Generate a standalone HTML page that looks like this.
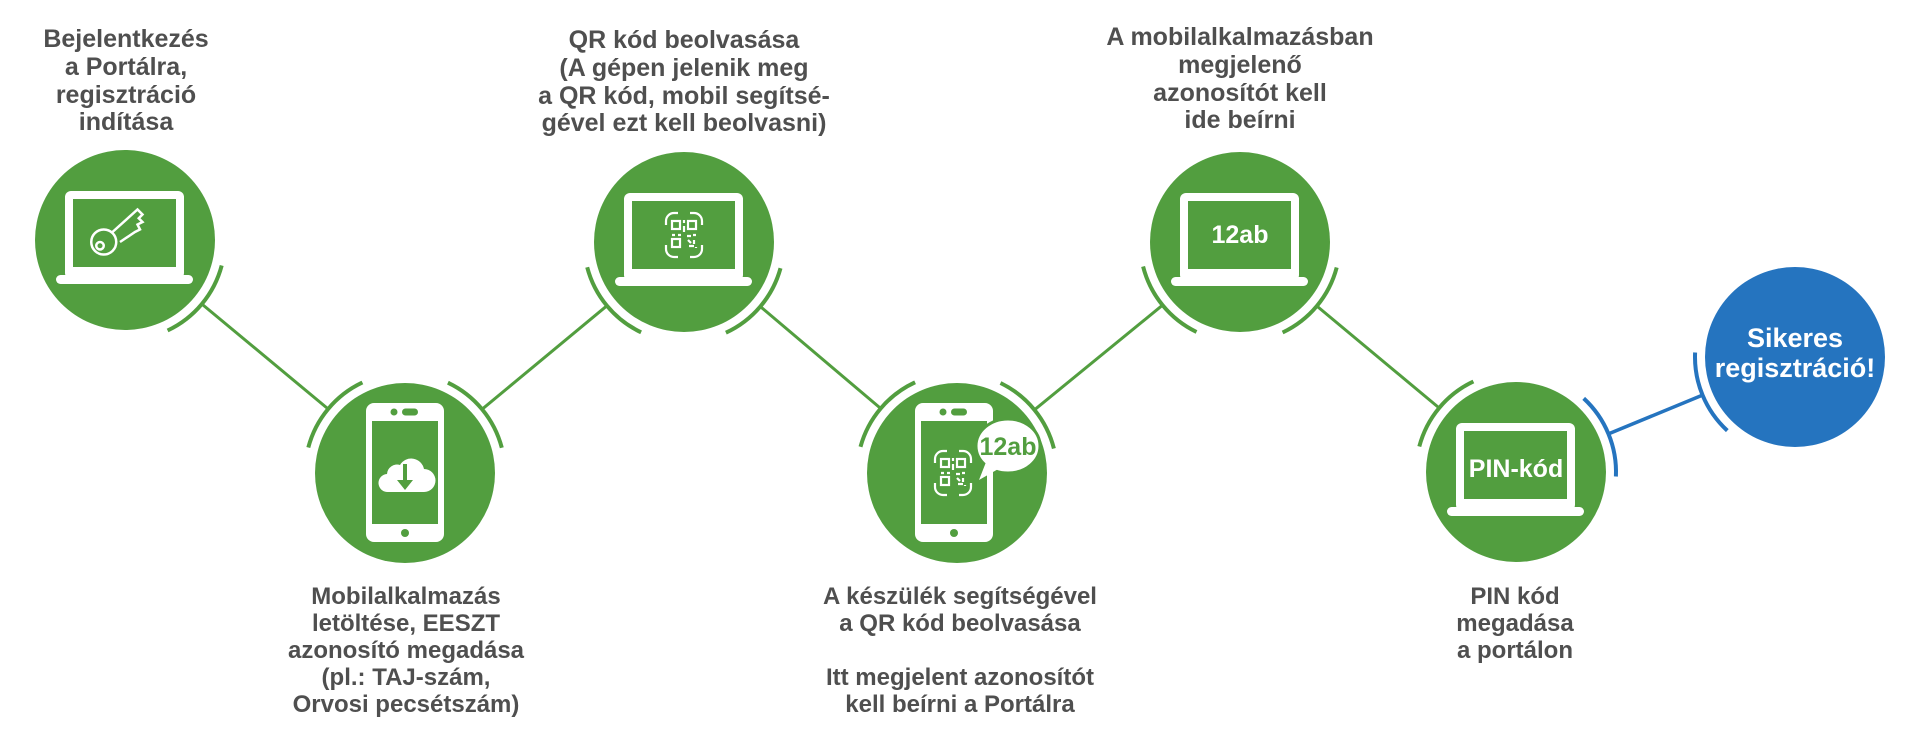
<!DOCTYPE html>
<html><head><meta charset="utf-8"><style>
html,body{margin:0;padding:0;background:#fff}
body{width:1920px;height:747px;position:relative;overflow:hidden;font-family:"Liberation Sans",sans-serif}
.l{position:absolute;width:400px;margin-left:-200px;text-align:center;color:#4f4f4f;font-weight:bold;font-size:25px;line-height:27.8px}
.b{line-height:27px;font-size:24px}
svg{position:absolute;left:0;top:0}
</style></head><body>
<svg width="1920" height="747" viewBox="0 0 1920 747">
<g fill="none" stroke="#529e3f" stroke-width="3">
<line x1="201.8" y1="304" x2="328.2" y2="409"/>
<line x1="482" y1="409.3" x2="607" y2="305.7"/>
<line x1="760.4" y1="306.6" x2="880.6" y2="408.4"/>
<line x1="1034.5" y1="409.8" x2="1162.5" y2="305.2"/>
<line x1="1316.8" y1="306" x2="1439.2" y2="408"/>
</g>
<g fill="none" stroke="#529e3f" stroke-width="4">
<path d="M221.7,265.5 A100,100 0 0 1 167.6,330.5"/>
<path d="M308.3,447.5 A100,100 0 0 1 362.4,382.5"/>
<path d="M447.9,382.7 A100,100 0 0 1 501.8,447.8"/>
<path d="M641.1,332.3 A100,100 0 0 1 587.2,267.2"/>
<path d="M780.5,268.2 A100,100 0 0 1 725.9,332.7"/>
<path d="M860.5,446.8 A100,100 0 0 1 915.1,382.3"/>
<path d="M1000.5,383 A100,100 0 0 1 1053.9,448.5"/>
<path d="M1196.5,332 A100,100 0 0 1 1143.1,266.5"/>
<path d="M1336.7,267.5 A100,100 0 0 1 1282.6,332.5"/>
<path d="M1419.3,446.5 A100,100 0 0 1 1473.4,381.5"/>
</g>
<g fill="none" stroke="#2574bf">
<line x1="1608.5" y1="433.9" x2="1702.5" y2="395.1" stroke-width="3.5"/>
<path d="M1583.7,398.4 A100,100 0 0 1 1615.9,476.5" stroke-width="4"/>
<path d="M1727.3,430.6 A100,100 0 0 1 1695.1,352.5" stroke-width="4"/>
</g>
<g fill="#529e3f">
<circle cx="125" cy="240" r="90"/><circle cx="405" cy="473" r="90"/>
<circle cx="684" cy="242" r="90"/><circle cx="957" cy="473" r="90"/>
<circle cx="1240" cy="242" r="90"/><circle cx="1516" cy="472" r="90"/>
</g>
<circle cx="1795" cy="357" r="90" fill="#2574bf"/>
<defs>
<g id="lap"><rect x="-60" y="-49" width="119" height="88" rx="6" fill="#fff"/><rect x="-52" y="-41" width="103" height="68" fill="#529e3f"/><rect x="-69" y="35" width="137" height="9" rx="4.5" fill="#fff"/></g>
<g id="ph"><rect x="-39" y="-70" width="78" height="139" rx="8" fill="#fff"/><rect x="-33" y="-52" width="66" height="103" fill="#529e3f"/><circle cx="-11" cy="-61" r="3.5" fill="#529e3f"/><rect x="-3" y="-64.5" width="16" height="7" rx="3.5" fill="#529e3f"/><circle cx="0" cy="60" r="4" fill="#529e3f"/></g>
<g id="qr" fill="none" stroke="#fff" stroke-width="2.2">
<path d="M-18,-10 v-4 a8,8 0 0 1 8,-8 h4 M18,-10 v-4 a8,8 0 0 0 -8,-8 h-4 M-18,10 v4 a8,8 0 0 0 8,8 h4 M18,10 v4 a8,8 0 0 1 -8,8 h-4"/>
<rect x="-12" y="-14" width="8" height="8"/><rect x="4" y="-14" width="8" height="8"/><rect x="-12" y="4" width="8" height="8"/>
<path d="M0,-15 v3 M0,-9 v6 M-12,0 h3 M-6,0 h3 M3,1 h4 M9,0 h3 M4,5 l3,3 M10,5 v4 M5,11 h5 M12,12 v1"/>
</g>
</defs>
<use href="#lap" x="125" y="240"/>
<g transform="translate(125,232) scale(1.25)" fill="none" stroke="#fff" stroke-width="2">
<circle cx="-17" cy="8" r="10"/><circle cx="-20" cy="11" r="3"/>
<path d="M-10,0 L10,-18 L14,-14 L11,-11 L14,-8 L10,-6 L12,-2 L8,0 L-4,8"/>
</g>
<use href="#ph" x="405" y="473"/>
<g transform="translate(405,478)">
<path d="M-17,14 a9,9 0 0 1 -1,-18 a10,10 0 0 1 13,-9 a13,13 0 0 1 24,4 a11,11 0 0 1 0,23 z" fill="#fff"/>
<path d="M-2,-14 h4 v16 h6 l-8,10 l-8,-10 h6 z" fill="#529e3f"/>
</g>
<use href="#ph" x="954" y="473"/>
<use href="#qr" x="953" y="473"/>
<g>
<ellipse cx="1008" cy="446" rx="32" ry="27" fill="#fff" stroke="#529e3f" stroke-width="3"/>
<path d="M979,480 L988,457 L1000,468 Z" fill="#fff"/>
<text x="1008" y="455" text-anchor="middle" font-family="Liberation Sans,sans-serif" font-weight="bold" font-size="25" fill="#529e3f">12ab</text>
</g>
<use href="#lap" x="684" y="242"/>
<use href="#qr" x="684" y="235"/>
<use href="#lap" x="1240" y="242"/>
<text x="1240" y="243" text-anchor="middle" font-family="Liberation Sans,sans-serif" font-weight="bold" font-size="25" fill="#fff">12ab</text>
<use href="#lap" x="1516" y="472"/>
<text x="1516" y="477" text-anchor="middle" font-family="Liberation Sans,sans-serif" font-weight="bold" font-size="25" fill="#fff">PIN-kód</text>
<text x="1795" y="347" text-anchor="middle" font-family="Liberation Sans,sans-serif" font-weight="bold" font-size="27" fill="#fff">Sikeres</text>
<text x="1795" y="377" text-anchor="middle" font-family="Liberation Sans,sans-serif" font-weight="bold" font-size="27" fill="#fff">regisztráció!</text>
</svg>
<div class="l" style="left:126px;top:26px">Bejelentkezés<br>a Portálra,<br>regisztráció<br>indítása</div>
<div class="l" style="left:684px;top:27px">QR kód beolvasása<br>(A gépen jelenik meg<br>a QR kód, mobil segítsé-<br>gével ezt kell beolvasni)</div>
<div class="l" style="left:1240px;top:24px">A mobilalkalmazásban<br>megjelenő<br>azonosítót kell<br>ide beírni</div>
<div class="l b" style="left:406px;top:583px">Mobilalkalmazás<br>letöltése, EESZT<br>azonosító megadása<br>(pl.: TAJ-szám,<br>Orvosi pecsétszám)</div>
<div class="l b" style="left:960px;top:583px">A készülék segítségével<br>a QR kód beolvasása<br><br>Itt megjelent azonosítót<br>kell beírni a Portálra</div>
<div class="l b" style="left:1515px;top:583px">PIN kód<br>megadása<br>a portálon</div>
</body></html>
